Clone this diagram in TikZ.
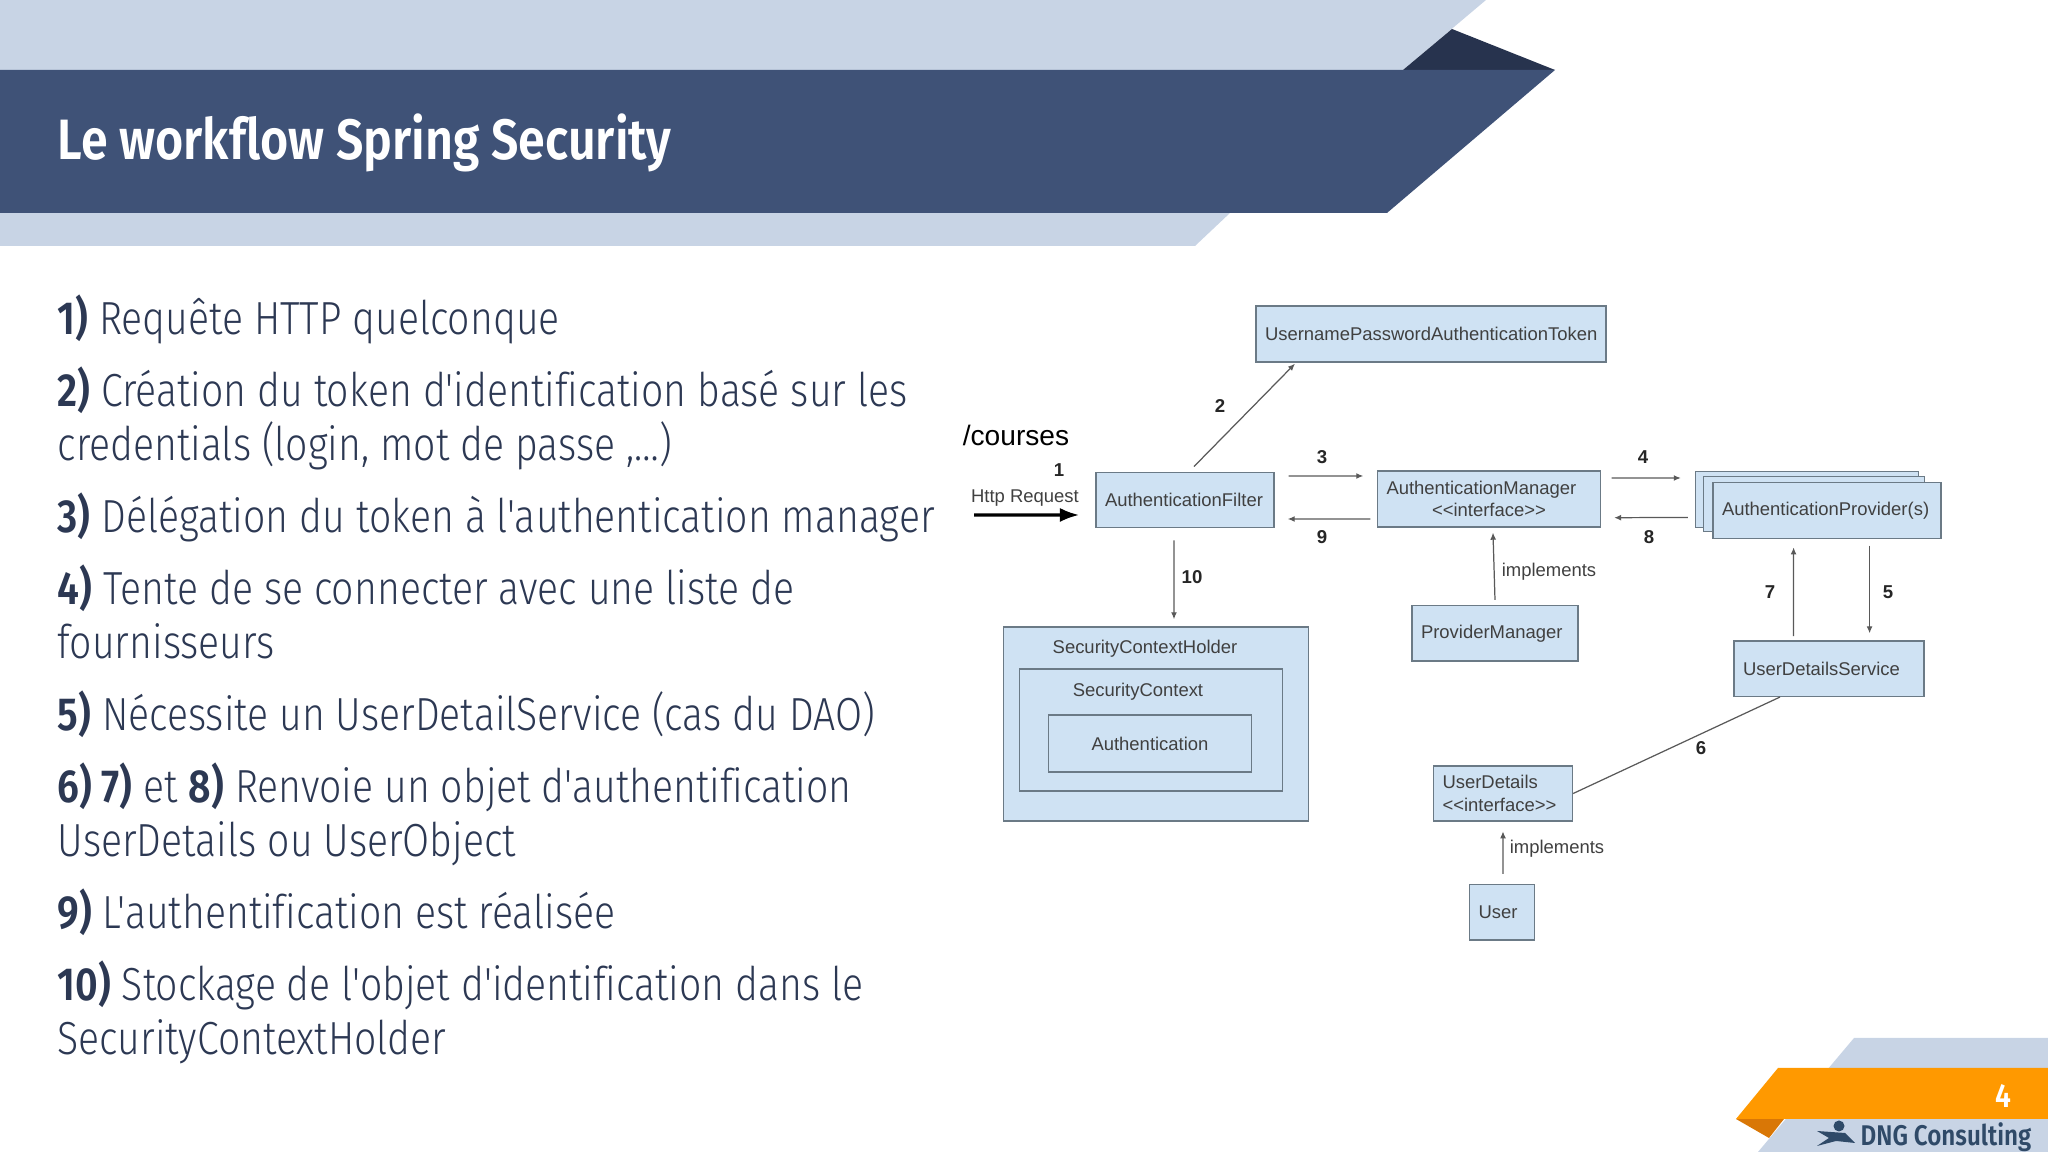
\documentclass[tikz,border=0pt]{standalone}
\usepackage{fontspec}
\usepackage{xcolor}
\usepackage{tikz}
\usetikzlibrary{arrows.meta}
\setmainfont{Fira Sans}[FakeStretch=0.845, UprightFont={* Light}, BoldFont={* SemiBold}, Ligatures={TeXOff,CommonOff}]
\newfontfamily\titlefont{Fira Sans}[FakeStretch=0.85, UprightFont={* SemiBold}, Ligatures=CommonOff]
\newfontfamily\diagfont{Liberation Sans}
\definecolor{bandlight}{HTML}{C8D4E5}
\definecolor{banddark}{HTML}{27334E}
\definecolor{bandmain}{HTML}{3F5277}
\definecolor{bandorange}{HTML}{FF9900}
\definecolor{foldorange}{HTML}{D97706}
\definecolor{bodytext}{HTML}{2C3853}
\definecolor{boxfill}{HTML}{CFE2F3}
\definecolor{boxline}{HTML}{6B7A86}
\definecolor{logoblue}{HTML}{2F4A68}
\tikzset{
	para/.style={anchor=west, align=left, text=bodytext, inner sep=0pt, font=\fontsize{13.2}{15.4}\selectfont, execute at begin node=\strut, execute at end node=\strut},
	box/.style={draw=boxline, fill=boxfill, line width=0.4pt, inner xsep=0.09cm, inner ysep=0pt, align=left, text=black!75, font=\diagfont\fontsize{5.25}{6.4}\selectfont},
	difflabel/.style={inner sep=0pt, text=black!75, font=\diagfont\fontsize{5.25}{6.4}\selectfont},
	stepnum/.style={inner sep=0pt, text=black!85, font=\diagfont\bfseries\fontsize{5.3}{6.4}\selectfont},
	flow/.style={-{Latex[length=2pt, width=1.7pt]}, draw=black!65, line width=0.35pt}
}

\begin{document}
\begin{tikzpicture}
	\useasboundingbox (0, 0) rectangle (20.48, 11.52);

	% bandeau du titre
	\fill[bandlight] (0, 11.52) -- (14.86, 11.52) -- (14.03, 10.82) -- (0, 10.82) -- cycle;
	\fill[banddark] (14.03, 10.82) -- (14.52, 11.23) -- (15.55, 10.82) -- cycle;
	\fill[bandlight] (0, 9.39) -- (12.30, 9.39) -- (11.95, 9.06) -- (0, 9.06) -- cycle;
	\fill[bandmain] (0, 10.82) -- (15.55, 10.82) -- (13.87, 9.39) -- (0, 9.39) -- cycle;
	\node[anchor=west, inner sep=0pt, text=white, font=\titlefont\fontsize{16.2}{18}\selectfont] at (0.57, 10.09) (title) {Le workflow Spring Security};

	% texte
	\node[para] at (0.57, 8.29) (p1) {\textbf{1)} Requête HTTP quelconque};
	\node[para] at (0.57, 7.30) (p2) {\textbf{2)} Création du token d'identification basé sur les\\credentials (login, mot de passe ,…)};
	\node[para] at (0.57, 6.31) (p3) {\textbf{3)} Délégation du token à l'authentication manager};
	\node[para] at (0.57, 5.32) (p4) {\textbf{4)} Tente de se connecter avec une liste de\\fournisseurs};
	\node[para] at (0.57, 4.33) (p5) {\textbf{5)} Nécessite un UserDetailService (cas du DAO)};
	\node[para] at (0.57, 3.34) (p6) {\textbf{6) 7)} et \textbf{8)} Renvoie un objet d'authentification\\UserDetails ou UserObject};
	\node[para] at (0.57, 2.35) (p7) {\textbf{9)} L'authentification est réalisée};
	\node[para] at (0.57, 1.36) (p8) {\textbf{10)} Stockage de l'objet d'identification dans le\\SecurityContextHolder};

	% boites
	\node[box, text width=3.32cm, minimum height=0.56cm] at (14.31, 8.18) (token) {UsernamePasswordAuthenticationToken};
	\node[box, text width=1.6cm, minimum height=0.555cm] at (11.85, 6.52) (filter) {AuthenticationFilter};
	\node[box, text width=2.05cm, minimum height=0.56cm] at (14.89, 6.53) (manager) {AuthenticationManager\\\hspace*{0.455cm}<{}<interface>{}>};
	\node[box, text width=1.48cm, minimum height=0.553cm] at (14.95, 5.187) (provmanager) {ProviderManager};
	\node[box, minimum width=3.05cm, minimum height=1.94cm] at (11.56, 4.28) (holder) {};
	\node[box, minimum width=2.63cm, minimum height=1.22cm] at (11.51, 4.22) (context) {};
	\node[box, align=center, minimum width=2.03cm, minimum height=0.57cm] at (11.50, 4.085) (authentication) {Authentication};
	\node[difflabel] at (11.45, 5.03) (holderlabel) {SecurityContextHolder};
	\node[difflabel] at (11.38, 4.60) (contextlabel) {SecurityContext};
	\node[box, minimum width=2.23cm, minimum height=0.556cm] at (18.07, 6.525) (provback) {};
	\node[box, minimum width=2.21cm, minimum height=0.55cm] at (18.14, 6.478) (provmid) {};
	\node[box, text width=2.1cm, minimum height=0.556cm] at (18.27, 6.415) (provider) {AuthenticationProvider(s)};
	\node[box, text width=1.72cm, minimum height=0.553cm] at (18.29, 4.833) (service) {UserDetailsService};
	\node[box, text width=1.21cm, minimum height=0.55cm] at (15.03, 3.585) (details) {UserDetails\\<{}<interface>{}>};
	\node[box, text width=0.47cm, minimum height=0.553cm] at (15.02, 2.397) (user) {User};

	% liens
	\coordinate (httpstart) at (9.74, 6.37);
	\draw[-{Latex[length=5.5pt, width=4pt]}, black, line width=0.9pt] (httpstart) -- ([shift={(-0.16, -0.15)}]filter.west);
	\draw[flow] ([shift={(0.09, 0.05)}]filter.north) -- ([shift={(-1.36, -0.01)}]token.south);
	\draw[flow] ([shift={(0.14, 0.24)}]filter.east) -- ([shift={(-0.135, 0.23)}]manager.west);
	\draw[flow] ([shift={(-0.065, -0.2)}]manager.west) -- ([shift={(0.13, -0.19)}]filter.east);
	\draw[flow] ([shift={(-0.11, -0.12)}]filter.south) -- ([shift={(0.18, 0.07)}]holder.north);
	\draw[flow] ([yshift=0.05cm]provmanager.north) -- ([shift={(0.04, -0.05)}]manager.south);
	\draw[flow] ([shift={(0.105, 0.21)}]manager.east) -- ([shift={(-0.14, 0.215)}]provback.west);
	\draw[flow] ([shift={(-0.07, -0.18)}]provback.west) -- ([shift={(0.13, -0.187)}]manager.east);
	\draw[flow] ([shift={(-0.354, 0.043)}]service.north) -- ([shift={(-0.334, -0.084)}]provider.south);
	\draw[flow] ([shift={(0.426, -0.067)}]provider.south) -- ([shift={(0.406, 0.07)}]service.north);
	\draw[black!65, line width=0.35pt] ([xshift=-0.49cm]service.south) -- (details.east);
	\draw[flow] ([shift={(0.01, 0.1)}]user.north) -- ([yshift=-0.097cm]details.south);

	% etiquettes
	\node[inner sep=0pt, font=\diagfont\fontsize{8}{10}\selectfont] at (10.16, 7.17) (courses) {/courses};
	\node[stepnum] at (10.59, 6.82) (n1) {1};
	\node[difflabel] at (10.25, 6.535) (http) {Http Request};
	\node[stepnum] at (12.20, 7.46) (n2) {2};
	\node[stepnum] at (13.22, 6.95) (n3) {3};
	\node[stepnum] at (13.22, 6.15) (n9) {9};
	\node[stepnum] at (11.92, 5.75) (n10) {10};
	\node[stepnum] at (16.43, 6.947) (n4) {4};
	\node[stepnum] at (16.49, 6.147) (n8) {8};
	\node[stepnum] at (17.70, 5.597) (n7) {7};
	\node[stepnum] at (18.88, 5.597) (n5) {5};
	\node[stepnum] at (17.01, 4.037) (n6) {6};
	\node[difflabel] at (15.49, 5.803) (impl1) {implements};
	\node[difflabel] at (15.57, 3.037) (impl2) {implements};

	% pied de page
	\fill[bandlight] (18.54, 1.14) -- (20.48, 1.14) -- (20.48, 0) -- (17.58, 0) -- cycle;
	\fill[foldorange] (17.36, 0.33) -- (17.84, 0.33) -- (17.69, 0.14) -- cycle;
	\fill[bandorange] (17.78, 0.84) -- (20.48, 0.84) -- (20.48, 0.33) -- (17.36, 0.33) -- cycle;
	\node[inner sep=0pt, text=white, font=\titlefont\fontsize{9.5}{11}\selectfont] at (20.03, 0.56) (pagenum) {4};
	\node[anchor=west, inner sep=0pt, text=logoblue, font=\titlefont\fontsize{8.1}{10}\selectfont] at (18.60, 0.15) (brand) {DNG Consulting};
	\fill[logoblue] (18.39, 0.26) circle (0.055);
	\fill[logoblue] (18.17, 0.21) -- (18.45, 0.19) -- (18.55, 0.09) -- (18.36, 0.11) -- (18.17, 0.06) -- (18.29, 0.14) -- cycle;
\end{tikzpicture}
\end{document}
